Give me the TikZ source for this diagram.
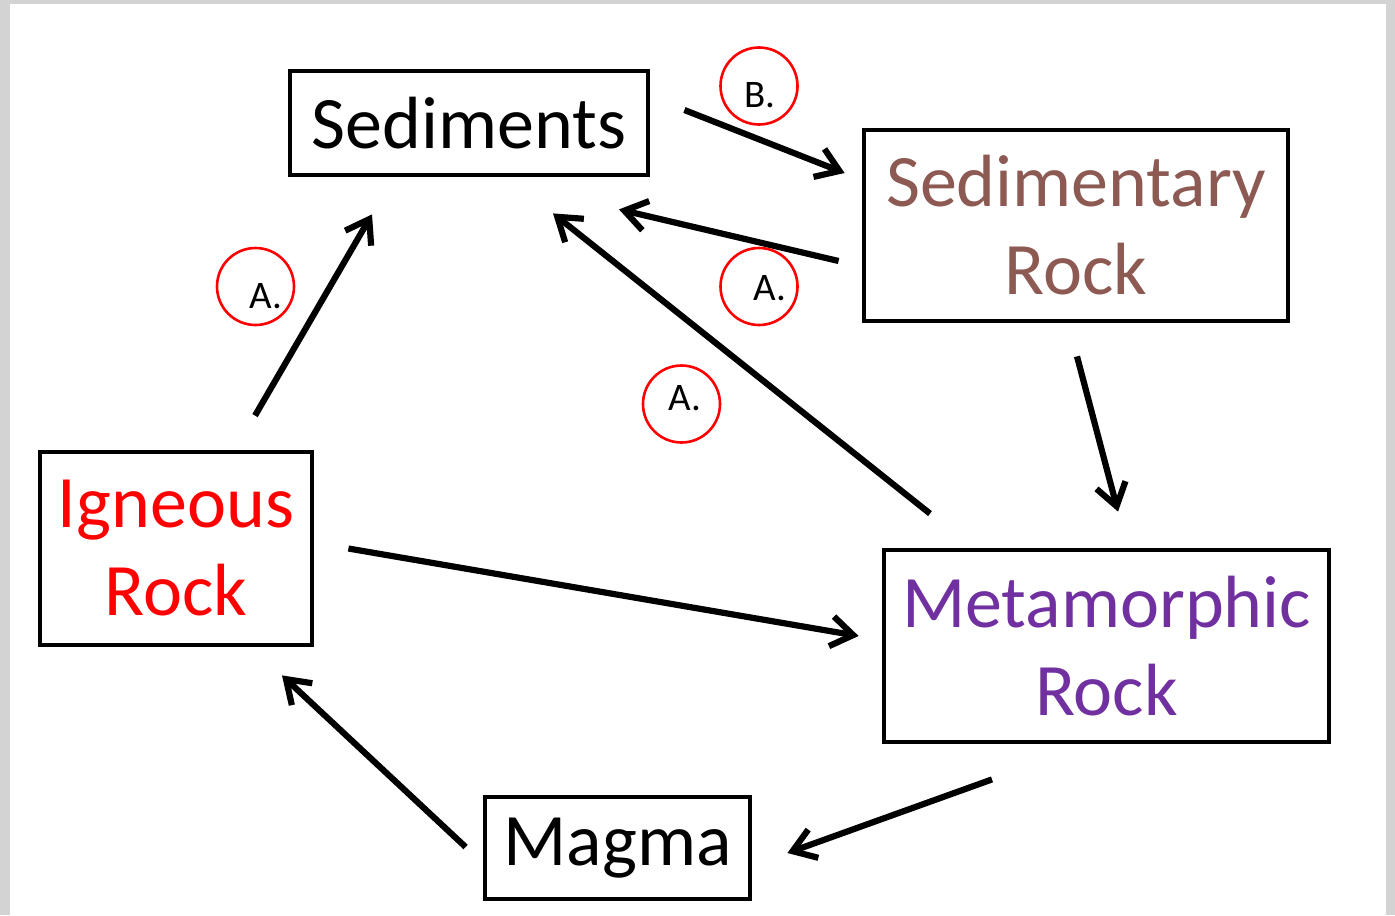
\documentclass[tikz,border=0pt]{standalone}
\usepackage{fontspec}
\setmainfont{Carlito}
\usetikzlibrary{arrows.meta}
\definecolor{frame}{RGB}{211,211,211}
\definecolor{sedbrown}{RGB}{140,90,82}
\definecolor{metpurple}{RGB}{112,48,160}
\definecolor{ignred}{RGB}{255,0,0}
\tikzset{
  rockbox/.style={draw=black, line width=2.4pt, rectangle, inner sep=0pt,
    align=center, font=\fontsize{37}{44}\selectfont},
  flow/.style={draw=black, line width=3.1pt,
    -{Straight Barb[length=11pt, width=15pt, line width=3.1pt]}},
  tagring/.style={draw=red, line width=1.3pt, circle, minimum size=38.5pt, inner sep=0pt},
  tagtext/.style={font=\fontsize{19.5}{22}\selectfont, inner sep=0pt}
}
\begin{document}
\begin{tikzpicture}[x=0.5pt, y=-0.5pt]
  % page frame
  \useasboundingbox (0,0) rectangle (1395,915);
  \fill[frame] (0,0) rectangle (1395,915);
  \fill[white] (10,4) rectangle (1386,915);

  % rock-cycle stages
  \node[rockbox, minimum width=179pt, minimum height=52pt] (sed) at (469,123) {Sediments};
  \node[rockbox, minimum width=212pt, minimum height=95.5pt, text=sedbrown] (sedr) at (1076,225.5) {Sedimentary\\Rock};
  \node[rockbox, minimum width=136pt, minimum height=96.5pt, text=ignred] (ign) at (176,548.5) {Igneous\\Rock};
  \node[rockbox, minimum width=222.5pt, minimum height=96pt, text=metpurple] (met) at (1106.5,646) {Metamorphic\\Rock};
  \node[rockbox, minimum width=132.5pt, minimum height=51pt] (mag) at (617.5,848) {Magma};

  % process markers
  \node[tagring] (ringB) at (759,86) {};
  \node[tagtext] (tagB) at (760,95) {B.};
  \node[tagring] (ringA1) at (255.5,286.5) {};
  \node[tagtext] (tagA1) at (266,296) {A.};
  \node[tagring] (ringA2) at (759,286.5) {};
  \node[tagtext] (tagA2) at (770,288) {A.};
  \node[tagring] (ringA3) at (681.5,404) {};
  \node[tagtext] (tagA3) at (685,398) {A.};

  % transitions
  \draw[flow] ([shift={(34,-13)}]sed.east) -- ([shift={(-17,-52.5)}]sedr.west);
  \draw[flow] ([shift={(-23,35.5)}]sedr.west) -- ([shift={(150,32)}]sed.south);
  \draw[flow] ([shift={(79,-34)}]ign.north) -- ([shift={(-97,37)}]sed.south);
  \draw[flow] ([shift={(-176.5,-34)}]met.north) -- ([shift={(84,36)}]sed.south);
  \draw[flow] ([shift={(1,33)}]sedr.south) -- ([shift={(11.5,-36)}]met.north);
  \draw[flow] ([shift={(34,0)}]ign.east) -- ([shift={(-23,-10)}]met.west);
  \draw[flow] ([shift={(-114.5,35)}]met.south) -- ([shift={(35,5)}]mag.east);
  \draw[flow] ([shift={(-17,-1)}]mag.west) -- ([shift={(106,28)}]ign.south);
\end{tikzpicture}
\end{document}
